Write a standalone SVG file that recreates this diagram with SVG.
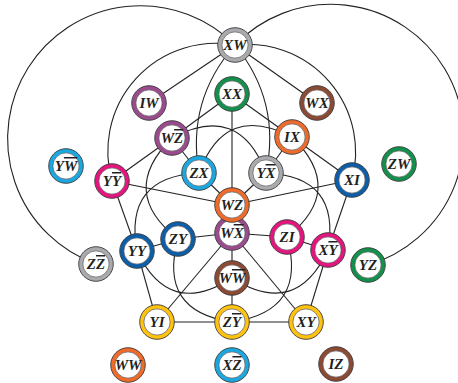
<svg xmlns="http://www.w3.org/2000/svg" width="458" height="383" viewBox="0 0 458 383">
<style>
.ring{fill:#fff;stroke-width:4}
.ol{fill:none;stroke:#3a3a3a;stroke-width:0.9}
.il{fill:none;stroke:#3a3a3a;stroke-width:0.6}
.lb{font-family:"Liberation Serif","Times New Roman",serif;font-weight:bold;font-style:italic;font-size:15px;fill:#231f20;text-anchor:middle}
.ov{text-decoration:overline}
.gray{stroke:#a9aaae}.green{stroke:#13904b}.purple{stroke:#9a4a8d}.brown{stroke:#8c4a34}
.orange{stroke:#ef6b2b}.cyan{stroke:#1ba8e1}.magenta{stroke:#e5147f}.blue{stroke:#0c5ea9}.yellow{stroke:#ffc20f}
#edges path,#edges line{stroke:#222;stroke-width:1.1;fill:none}
</style>
<rect width="458" height="383" fill="#fff"/>
<g id="edges">
<path d="M235,45 A133,133 0 1 0 96,264"/>
<path d="M235,45 A133,133 0 1 1 368,265"/>
<path d="M235,45 A108,108 0 0 0 112,181"/>
<path d="M235,45 A108,108 0 0 1 352,180"/>
<path d="M235,45 Q186.3,100.4 199,173"/>
<path d="M235,45 Q281.2,101.6 266,173"/>
<line x1="235" y1="45" x2="149" y2="103"/>
<line x1="235" y1="45" x2="317" y2="103"/>
<line x1="232" y1="94" x2="292" y2="137"/>
<line x1="292" y1="137" x2="352" y2="180"/>
<line x1="352" y1="180" x2="328" y2="250"/>
<line x1="328" y1="250" x2="306" y2="322"/>
<line x1="306" y1="322" x2="232" y2="322"/>
<line x1="232" y1="322" x2="157" y2="322"/>
<line x1="157" y1="322" x2="137" y2="251"/>
<line x1="137" y1="251" x2="112" y2="181"/>
<line x1="112" y1="181" x2="172" y2="138"/>
<line x1="172" y1="138" x2="232" y2="94"/>
<line x1="232" y1="205" x2="232" y2="94"/>
<line x1="232" y1="205" x2="352" y2="180"/>
<line x1="232" y1="205" x2="112" y2="181"/>
<line x1="232" y1="233" x2="306" y2="322"/>
<line x1="232" y1="233" x2="157" y2="322"/>
<line x1="232" y1="205" x2="199" y2="173"/>
<line x1="232" y1="205" x2="266" y2="173"/>
<line x1="232" y1="233" x2="178" y2="239"/>
<line x1="232" y1="233" x2="287" y2="237"/>
<line x1="232" y1="233" x2="232" y2="322"/>
<line x1="199" y1="173" x2="172" y2="138"/>
<line x1="266" y1="173" x2="292" y2="137"/>
<line x1="287" y1="237" x2="328" y2="250"/>
<line x1="178" y1="239" x2="137" y2="251"/>
<path d="M172,138 Q239,101.9 266,173"/>
<path d="M292,137 Q225,102 199,173"/>
<path d="M292,137 Q346.5,189.9 287,237"/>
<path d="M328,250 Q340.9,176.2 266,173"/>
<path d="M328,250 Q296,318.7 232,278"/>
<path d="M232,322 Q308,310.9 287,237"/>
<path d="M232,322 Q157.7,311.3 178,239"/>
<path d="M137,251 Q169.1,318.7 232,278"/>
<path d="M137,251 Q123.5,176.7 199,173"/>
<path d="M172,138 Q117.4,191.9 178,239"/>
</g>
<g id="n-XW" transform="translate(235,45)"><circle class="ring gray" r="15.2"/><circle class="ol" r="17.3"/><circle class="il" r="13.1"/><text class="lb" y="5">XW</text></g>
<g id="n-XX" transform="translate(232,94)"><circle class="ring green" r="15.2"/><circle class="ol" r="17.3"/><circle class="il" r="13.1"/><text class="lb" y="5">XX</text></g>
<g id="n-IW" transform="translate(149,103)"><circle class="ring purple" r="15.2"/><circle class="ol" r="17.3"/><circle class="il" r="13.1"/><text class="lb" y="5">IW</text></g>
<g id="n-WX" transform="translate(317,103)"><circle class="ring brown" r="15.2"/><circle class="ol" r="17.3"/><circle class="il" r="13.1"/><text class="lb" y="5">WX</text></g>
<g id="n-WZbar" transform="translate(172,138)"><circle class="ring purple" r="15.2"/><circle class="ol" r="17.3"/><circle class="il" r="13.1"/><text class="lb" y="5">W<tspan class="ov">Z</tspan></text></g>
<g id="n-IX" transform="translate(292,137)"><circle class="ring orange" r="15.2"/><circle class="ol" r="17.3"/><circle class="il" r="13.1"/><text class="lb" y="5">IX</text></g>
<g id="n-YWbar" transform="translate(66,166)"><circle class="ring cyan" r="15.2"/><circle class="ol" r="17.3"/><circle class="il" r="13.1"/><text class="lb" y="5">Y<tspan class="ov">W</tspan></text></g>
<g id="n-YYbar" transform="translate(112,181)"><circle class="ring magenta" r="15.2"/><circle class="ol" r="17.3"/><circle class="il" r="13.1"/><text class="lb" y="5">Y<tspan class="ov">Y</tspan></text></g>
<g id="n-ZX" transform="translate(199,173)"><circle class="ring cyan" r="15.2"/><circle class="ol" r="17.3"/><circle class="il" r="13.1"/><text class="lb" y="5">ZX</text></g>
<g id="n-YXbar" transform="translate(266,173)"><circle class="ring gray" r="15.2"/><circle class="ol" r="17.3"/><circle class="il" r="13.1"/><text class="lb" y="5">Y<tspan class="ov">X</tspan></text></g>
<g id="n-XI" transform="translate(352,180)"><circle class="ring blue" r="15.2"/><circle class="ol" r="17.3"/><circle class="il" r="13.1"/><text class="lb" y="5">XI</text></g>
<g id="n-ZW" transform="translate(399,164)"><circle class="ring green" r="15.2"/><circle class="ol" r="17.3"/><circle class="il" r="13.1"/><text class="lb" y="5">ZW</text></g>
<g id="n-WXbar" transform="translate(232,233)"><circle class="ring purple" r="15.2"/><circle class="ol" r="17.3"/><circle class="il" r="13.1"/><text class="lb" y="5">W<tspan class="ov">X</tspan></text></g>
<g id="n-WZ" transform="translate(232,205)"><circle class="ring orange" r="15.2"/><circle class="ol" r="17.3"/><circle class="il" r="13.1"/><text class="lb" y="5">WZ</text></g>
<g id="n-ZY" transform="translate(178,239)"><circle class="ring blue" r="15.2"/><circle class="ol" r="17.3"/><circle class="il" r="13.1"/><text class="lb" y="5">ZY</text></g>
<g id="n-ZI" transform="translate(287,237)"><circle class="ring magenta" r="15.2"/><circle class="ol" r="17.3"/><circle class="il" r="13.1"/><text class="lb" y="5">ZI</text></g>
<g id="n-XYbar" transform="translate(328,250)"><circle class="ring magenta" r="15.2"/><circle class="ol" r="17.3"/><circle class="il" r="13.1"/><text class="lb" y="5">X<tspan class="ov">Y</tspan></text></g>
<g id="n-YY" transform="translate(137,251)"><circle class="ring blue" r="15.2"/><circle class="ol" r="17.3"/><circle class="il" r="13.1"/><text class="lb" y="5">YY</text></g>
<g id="n-ZZbar" transform="translate(96,264)"><circle class="ring gray" r="15.2"/><circle class="ol" r="17.3"/><circle class="il" r="13.1"/><text class="lb" y="5">Z<tspan class="ov">Z</tspan></text></g>
<g id="n-YZ" transform="translate(368,265)"><circle class="ring green" r="15.2"/><circle class="ol" r="17.3"/><circle class="il" r="13.1"/><text class="lb" y="5">YZ</text></g>
<g id="n-WWbar" transform="translate(232,278)"><circle class="ring brown" r="15.2"/><circle class="ol" r="17.3"/><circle class="il" r="13.1"/><text class="lb" y="5">W<tspan class="ov">W</tspan></text></g>
<g id="n-YI" transform="translate(157,322)"><circle class="ring yellow" r="15.2"/><circle class="ol" r="17.3"/><circle class="il" r="13.1"/><text class="lb" y="5">YI</text></g>
<g id="n-ZYbar" transform="translate(232,322)"><circle class="ring yellow" r="15.2"/><circle class="ol" r="17.3"/><circle class="il" r="13.1"/><text class="lb" y="5">Z<tspan class="ov">Y</tspan></text></g>
<g id="n-XY" transform="translate(306,322)"><circle class="ring yellow" r="15.2"/><circle class="ol" r="17.3"/><circle class="il" r="13.1"/><text class="lb" y="5">XY</text></g>
<g id="n-WW" transform="translate(128,365)"><circle class="ring orange" r="15.2"/><circle class="ol" r="17.3"/><circle class="il" r="13.1"/><text class="lb" y="5">WW</text></g>
<g id="n-XZbar" transform="translate(232,365)"><circle class="ring cyan" r="15.2"/><circle class="ol" r="17.3"/><circle class="il" r="13.1"/><text class="lb" y="5">X<tspan class="ov">Z</tspan></text></g>
<g id="n-IZ" transform="translate(336,364)"><circle class="ring brown" r="15.2"/><circle class="ol" r="17.3"/><circle class="il" r="13.1"/><text class="lb" y="5">IZ</text></g>
</svg>
